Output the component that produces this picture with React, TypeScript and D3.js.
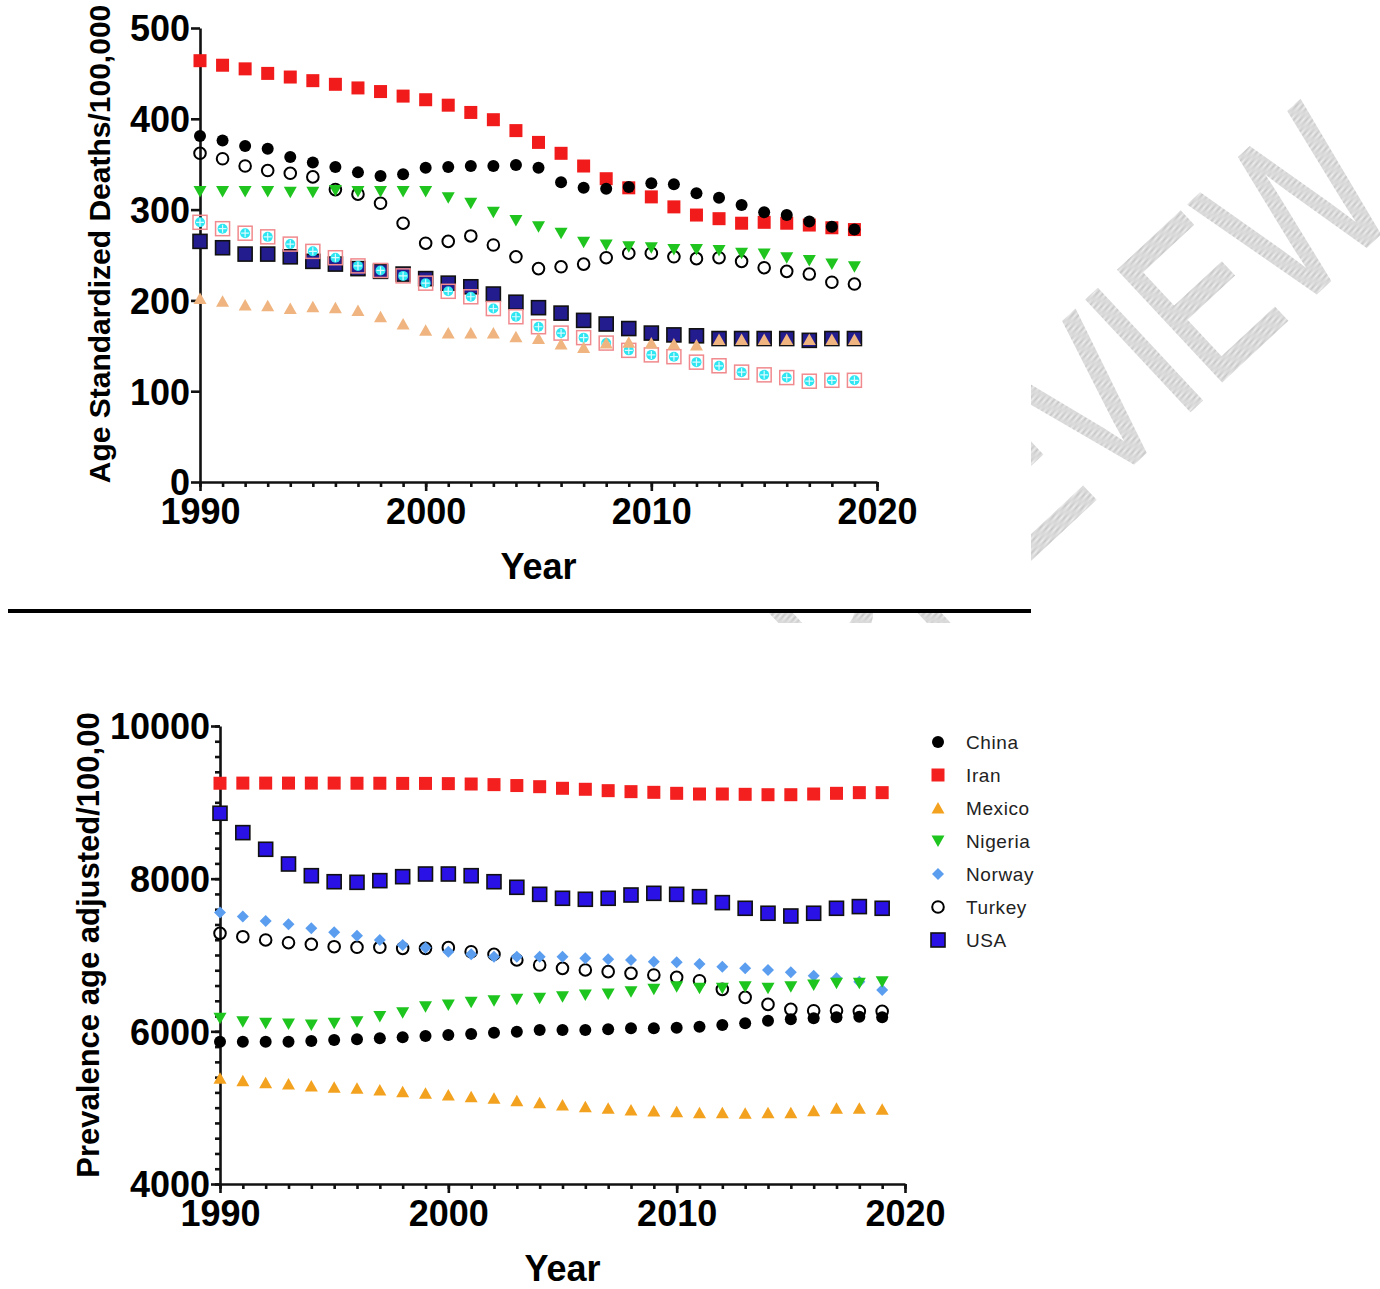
import React, { useEffect, useRef } from 'react';
import * as d3 from 'd3';

// years on the x axis (one point per year)
const years = [
  1990, 1991, 1992, 1993, 1994, 1995, 1996, 1997, 1998, 1999,
  2000, 2001, 2002, 2003, 2004, 2005, 2006, 2007, 2008, 2009,
  2010, 2011, 2012, 2013, 2014, 2015, 2016, 2017, 2018, 2019,
];

const countries = ['China', 'Iran', 'Mexico', 'Nigeria', 'Norway', 'Turkey', 'USA'];

// top panel: age standardized deaths / 100,000
const deathsChina = [381, 376, 370, 367, 358, 352, 347, 341, 337, 339, 346, 347, 348, 348, 349, 346, 330, 324, 323, 325, 329, 328, 318, 313, 305, 297, 294, 287, 281, 278];
const deathsIran = [464, 459, 455, 450, 446, 442, 438, 434, 430, 425, 421, 415, 407, 399, 387, 374, 362, 348, 334, 324, 314, 303, 294, 290, 285, 286, 285, 283, 280, 278];
const deathsMexico = [202, 199, 195, 194, 191, 193, 192, 189, 182, 174, 167, 164, 164, 164, 160, 158, 152, 148, 153, 154, 153, 152, 151, 157, 157, 157, 157, 157, 157, 157];
const deathsNigeria = [320, 320, 320, 320, 319, 319, 321, 320, 320, 320, 320, 313, 307, 297, 288, 281, 274, 264, 261, 259, 258, 256, 256, 255, 252, 251, 247, 244, 240, 237];
const deathsNorway = [286, 279, 274, 270, 262, 254, 247, 238, 233, 227, 219, 210, 204, 191, 182, 171, 164, 159, 153, 145, 140, 138, 132, 128, 121, 118, 115, 111, 112, 112];
const deathsTurkey = [362, 356, 348, 343, 340, 336, 322, 317, 307, 285, 263, 265, 271, 261, 248, 235, 237, 240, 247, 252, 252, 248, 246, 247, 243, 236, 232, 229, 220, 218];
const deathsUSA = [265, 258, 251, 251, 248, 243, 240, 235, 232, 229, 224, 219, 215, 207, 198, 192, 186, 178, 174, 169, 164, 162, 161, 158, 158, 158, 158, 156, 158, 158];

// bottom panel: prevalence age adjusted / 100,000
const prevChina = [5865, 5865, 5865, 5865, 5873, 5886, 5895, 5908, 5921, 5939, 5952, 5965, 5982, 5995, 6017, 6017, 6017, 6026, 6039, 6039, 6048, 6061, 6083, 6105, 6140, 6157, 6170, 6183, 6192, 6183];
const prevIran = [9250, 9252, 9252, 9252, 9252, 9252, 9250, 9250, 9248, 9248, 9245, 9240, 9232, 9220, 9205, 9184, 9171, 9153, 9140, 9131, 9118, 9109, 9109, 9105, 9100, 9100, 9109, 9118, 9127, 9127];
const prevMexico = [5385, 5354, 5328, 5310, 5284, 5267, 5254, 5232, 5210, 5188, 5166, 5144, 5122, 5091, 5065, 5035, 5013, 4992, 4970, 4956, 4947, 4934, 4934, 4926, 4934, 4934, 4960, 4992, 4992, 4978];
const prevNigeria = [6170, 6126, 6105, 6096, 6083, 6105, 6126, 6195, 6244, 6323, 6345, 6380, 6402, 6420, 6432, 6454, 6476, 6489, 6520, 6550, 6585, 6563, 6563, 6585, 6563, 6585, 6607, 6629, 6629, 6650];
const prevNorway = [7556, 7504, 7446, 7402, 7350, 7297, 7253, 7197, 7131, 7096, 7043, 7009, 6978, 6978, 6978, 6978, 6956, 6943, 6935, 6913, 6904, 6882, 6847, 6825, 6804, 6773, 6729, 6694, 6650, 6542];
const prevTurkey = [7284, 7240, 7197, 7161, 7140, 7109, 7101, 7101, 7087, 7087, 7096, 7043, 7009, 6935, 6869, 6825, 6804, 6782, 6760, 6738, 6707, 6663, 6550, 6445, 6353, 6288, 6270, 6270, 6262, 6262];
const prevUSA = [8857, 8603, 8385, 8192, 8039, 7960, 7952, 7974, 8026, 8061, 8061, 8039, 7960, 7887, 7795, 7743, 7730, 7743, 7786, 7808, 7795, 7764, 7686, 7612, 7547, 7511, 7547, 7612, 7634, 7612];

const deathsTicks = [0, 100, 200, 300, 400, 500];
const prevTicks = [4000, 6000, 8000, 10000];
const yearTicks = [1990, 2000, 2010, 2020];

const FONT = '"Liberation Sans", Arial, sans-serif';

type Sel = d3.Selection<SVGGElement, unknown, null, undefined>;

function marker(g: Sel, kind: string, x: number, y: number, color: string) {
  switch (kind) {
    case 'dot':
      g.append('circle').attr('cx', x).attr('cy', y).attr('r', 6).attr('fill', color);
      break;
    case 'ring':
      g.append('circle').attr('cx', x).attr('cy', y).attr('r', 5.8)
        .attr('fill', 'none').attr('stroke', color).attr('stroke-width', 2);
      break;
    case 'square':
      g.append('rect').attr('x', x - 6.5).attr('y', y - 6.5).attr('width', 13).attr('height', 13).attr('fill', color);
      break;
    case 'boxsq':
      g.append('rect').attr('x', x - 7).attr('y', y - 7).attr('width', 14).attr('height', 14)
        .attr('fill', color).attr('stroke', '#111').attr('stroke-width', 1.6);
      break;
    case 'tri':
      g.append('path').attr('d', `M${x},${y - 6}L${x + 6.5},${y + 5.5}L${x - 6.5},${y + 5.5}Z`).attr('fill', color);
      break;
    case 'tridown':
      g.append('path').attr('d', `M${x - 6.5},${y - 5.5}L${x + 6.5},${y - 5.5}L${x},${y + 6}Z`).attr('fill', color);
      break;
    case 'diamond':
      g.append('path').attr('d', `M${x},${y - 6}L${x + 6},${y}L${x},${y + 6}L${x - 6},${y}Z`).attr('fill', color);
      break;
    case 'cross':
      g.append('rect').attr('x', x - 7).attr('y', y - 7).attr('width', 14).attr('height', 14)
        .attr('fill', 'none').attr('stroke', '#f08a8e').attr('stroke-width', 1.5);
      g.append('circle').attr('cx', x).attr('cy', y).attr('r', 5).attr('fill', color);
      g.append('path').attr('d', `M${x - 4},${y}H${x + 4}M${x},${y - 4}V${y + 4}`)
        .attr('stroke', '#d8fbff').attr('stroke-width', 1.2);
      break;
  }
}

export default function App() {
  const ref = useRef<SVGSVGElement>(null);

  useEffect(() => {
    if (!ref.current) return;
    const svg = d3.select(ref.current);
    svg.selectAll('*').remove();

    // watermark, mostly hidden behind the two white panels
    const defs = svg.append('defs');
    const pat = defs.append('pattern').attr('id', 'hatch').attr('width', 2).attr('height', 2)
      .attr('patternUnits', 'userSpaceOnUse');
    pat.append('rect').attr('width', 2).attr('height', 2).attr('fill', '#f0f0f0');
    pat.append('rect').attr('width', 1).attr('height', 1).attr('fill', '#c4c4c4');
    pat.append('rect').attr('x', 1).attr('y', 1).attr('width', 1).attr('height', 1).attr('fill', '#c4c4c4');

    svg.append('text').attr('transform', 'translate(855,723) rotate(-43) scale(0.74,1)')
      .attr('font-family', FONT).attr('font-size', 220).attr('fill', 'url(#hatch)')
      .attr('stroke', 'url(#hatch)').attr('stroke-width', 3)
      .text('PREVIEW');

    svg.append('rect').attr('x', 0).attr('y', 0).attr('width', 1031).attr('height', 611).attr('fill', '#fff');
    svg.append('rect').attr('x', 0).attr('y', 623).attr('width', 1380).attr('height', 666).attr('fill', '#fff');
    svg.append('line').attr('x1', 8).attr('x2', 1031).attr('y1', 611).attr('y2', 611)
      .attr('stroke', '#000').attr('stroke-width', 4);

    const styleAxis = (ax: Sel) => {
      ax.selectAll('path, line').attr('stroke', '#111').attr('stroke-width', 2.6);
      ax.selectAll('text').attr('fill', '#000').attr('font-family', FONT)
        .attr('font-weight', 'bold').attr('font-size', 36);
    };

    const panel = (opts: {
      x0: number; x1: number; yTop: number; yBot: number; domain: [number, number];
      ticks: number[]; minor: number[] | null; series: number[][]; kinds: string[]; colors: string[];
      title: string; titleX: number; titleY: number; titleSize: number; yearBase: number;
    }) => {
      const x = d3.scaleLinear().domain([1990, 2020]).range([opts.x0, opts.x1]);
      const y = d3.scaleLinear().domain(opts.domain).range([opts.yBot, opts.yTop]);
      const g = svg.append('g');

      // minor ticks
      const minorYears = d3.range(1990, 2021);
      const mx = g.append('g').attr('transform', `translate(0,${opts.yBot})`)
        .call(d3.axisBottom(x).tickValues(minorYears).tickSize(5).tickSizeOuter(0).tickFormat(() => ''));
      styleAxis(mx);
      mx.select('.domain').remove();
      if (opts.minor) {
        const my = g.append('g').attr('transform', `translate(${opts.x0},0)`)
          .call(d3.axisLeft(y).tickValues(opts.minor).tickSize(5).tickSizeOuter(0).tickFormat(() => ''));
        styleAxis(my);
        my.select('.domain').remove();
      }

      const xa = g.append('g').attr('transform', `translate(0,${opts.yBot})`)
        .call(d3.axisBottom(x).tickValues(yearTicks).tickSize(9).tickSizeOuter(0).tickPadding(7).tickFormat(d3.format('d')));
      styleAxis(xa);
      const ya = g.append('g').attr('transform', `translate(${opts.x0},0)`)
        .call(d3.axisLeft(y).tickValues(opts.ticks).tickSize(9).tickSizeOuter(0).tickPadding(1).tickFormat(d3.format('d')));
      styleAxis(ya);
      ya.selectAll('text').attr('dy', '0.36em');

      g.append('text').attr('x', (opts.x0 + opts.x1) / 2).attr('y', opts.yearBase)
        .attr('text-anchor', 'middle').attr('font-family', FONT).attr('font-weight', 'bold')
        .attr('font-size', 36).text('Year');
      g.append('text')
        .attr('transform', `translate(${opts.titleX},${opts.titleY}) rotate(-90)`)
        .attr('text-anchor', 'middle').attr('font-family', FONT).attr('font-weight', 'bold')
        .attr('font-size', opts.titleSize).text(opts.title);

      // draw in reverse legend order so China ends up on top
      for (let s = opts.series.length - 1; s >= 0; s--) {
        const sg = g.append('g');
        opts.series[s].forEach((v, i) => marker(sg, opts.kinds[s], x(years[i]), y(v), opts.colors[s]));
      }
      return { x, y };
    };

    panel({
      x0: 200, x1: 877, yTop: 28, yBot: 482, domain: [0, 500], ticks: deathsTicks, minor: null,
      series: [deathsChina, deathsIran, deathsMexico, deathsNigeria, deathsNorway, deathsTurkey, deathsUSA],
      kinds: ['dot', 'square', 'tri', 'tridown', 'cross', 'ring', 'boxsq'],
      colors: ['#000', '#f21b1b', '#efb47f', '#1fc41f', '#2ee6f2', '#000', '#231c8f'],
      title: 'Age Standardized Deaths/100,000', titleX: 110, titleY: 244, titleSize: 30, yearBase: 579,
    });

    const prevMinor = d3.range(4000, 10001, 200);
    const prevColors = ['#000', '#f42020', '#f3a21f', '#1ec51e', '#5b9ef0', '#000', '#2a12e6'];
    const prevKinds = ['dot', 'square', 'tri', 'tridown', 'diamond', 'ring', 'boxsq'];
    panel({
      x0: 220, x1: 905, yTop: 726, yBot: 1184, domain: [4000, 10000], ticks: prevTicks, minor: prevMinor,
      series: [prevChina, prevIran, prevMexico, prevNigeria, prevNorway, prevTurkey, prevUSA],
      kinds: prevKinds, colors: prevColors,
      title: 'Prevalence age adjusted/100,00', titleX: 99, titleY: 945, titleSize: 31, yearBase: 1281,
    });

    // legend
    const lg = svg.append('g');
    countries.forEach((c, i) => {
      const ly = 742 + i * 33;
      marker(lg, prevKinds[i], 938, ly, prevColors[i]);
      lg.append('text').attr('x', 966).attr('y', ly).attr('dy', '0.36em')
        .attr('font-family', FONT).attr('font-size', 19).attr('letter-spacing', 0.6)
        .attr('fill', '#222').text(c);
    });
  }, []);

  return (
    <svg ref={ref} width={1380} height={1289}
      style={{ position: 'absolute', left: 0, top: 0, background: '#fff' }} />
  );
}
